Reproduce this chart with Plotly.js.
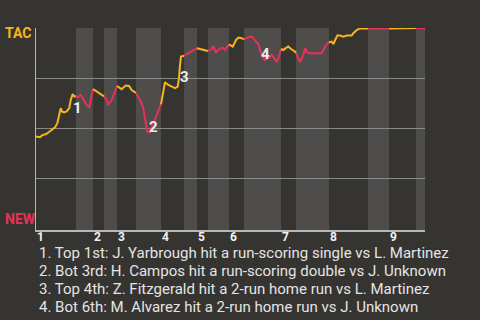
<!DOCTYPE html>
<html>
<head>
<meta charset="utf-8">
<script src="https://cdn.plot.ly/plotly-3.0.1.min.js"></script>
<style>
  html, body { margin: 0; padding: 0; background: #363431; }
  #chart { width: 480px; height: 320px; }
</style>
</head>
<body>
<div id="chart"></div>
<script>
// Game progress (0-100) and TAC win probability after each play
const playX = [0, 1.03, 1.54, 2.57, 3.34, 4.11, 4.88, 5.48, 5.99, 6.35, 6.68, 7.2, 7.89, 8.56, 8.92, 9.43, 9.85, 10.28,
  10.72, 11.49, 12.16, 13.03, 13.7, 14.14, 14.65,
  15.6, 16.45, 17.48,
  17.99, 18.59, 19.46, 20.31, 20.82,
  22.03, 23.06, 23.91, 24.6, 25.71,
  26.74, 27.58, 28.02, 28.61, 29.31, 30.15, 31.03, 32.13,
  32.47, 33.16, 34.01, 34.7, 35.73, 36.43, 36.76, 37.02, 37.28, 38.05,
  39.15, 40.44, 41.39,
  42.16, 43.19, 44.22,
  44.91, 45.58, 46.27, 47.12, 48.0, 48.59, 49.61,
  50.57, 51.41, 52.01, 52.88, 53.47,
  54.58, 55.45, 56.3, 57.15, 58.02, 58.87, 59.72, 60.59, 61.26, 61.88, 62.47, 62.98,
  63.57, 64.19, 64.86, 65.55, 66.4, 66.84,
  67.87, 68.72, 69.15, 69.59, 70.0, 71.72, 73.44, 73.86, 74.29, 74.73, 75.32,
  76.02, 76.43, 76.86, 77.46, 78.15, 79.0, 79.87, 81.16, 81.57, 82.44, 83.29, 85.35,
  90.75,
  96.92, 97.43, 97.69,
  100];
const tacWinProb = [0.458, 0.454, 0.463, 0.47, 0.48, 0.493, 0.503, 0.524, 0.565, 0.599, 0.583, 0.578, 0.583, 0.6, 0.64, 0.67, 0.657, 0.66,
  0.654, 0.665, 0.644, 0.615, 0.604, 0.64, 0.695,
  0.682, 0.67, 0.658,
  0.649, 0.615, 0.64, 0.682, 0.71,
  0.694, 0.712, 0.71, 0.69, 0.675,
  0.64, 0.599, 0.549, 0.482, 0.479, 0.524, 0.565, 0.618,
  0.649, 0.729, 0.715, 0.707, 0.699, 0.707, 0.749, 0.815, 0.857, 0.861,
  0.874, 0.89, 0.899,
  0.895, 0.892, 0.885,
  0.89, 0.907, 0.879, 0.895, 0.902, 0.89, 0.918,
  0.907, 0.94, 0.952, 0.949, 0.943,
  0.954, 0.957, 0.94, 0.92, 0.865, 0.84, 0.849, 0.865, 0.849, 0.829, 0.857, 0.895,
  0.89, 0.899, 0.907, 0.895, 0.885, 0.875,
  0.829, 0.865, 0.899, 0.882, 0.874, 0.874, 0.874, 0.89, 0.907, 0.919, 0.929,
  0.932, 0.92, 0.94, 0.962, 0.962, 0.957, 0.962, 0.962, 0.974, 0.99, 0.998, 0.998,
  0.998,
  0.998, 1.0, 1.0,
  0.998];

// Half-inning starts (top 1st ... bottom 9th) and game end
const halfStarts = [0, 10.28, 14.65, 17.48, 20.82, 25.71, 32.13, 38.05, 41.39, 44.22,
  49.61, 53.47, 62.98, 66.84, 75.32, 85.35, 90.75, 97.69];
const gameEnd = 100;
const inningLabels = ['1', '2', '3', '4', '5', '6', '7', '8', '9'];

// Key plays: label number, label position, description
const eventNums = ['1', '2', '3', '4'];
const eventX = [10.62, 30.15, 38.3, 58.87];
const eventY = [0.6015, 0.5065, 0.755, 0.8685];
const eventText = [
  '1. Top 1st: J. Yarbrough hit a run-scoring single vs L. Martinez',
  '2. Bot 3rd: H. Campos hit a run-scoring double vs J. Unknown',
  '3. Top 4th: Z. Fitzgerald hit a 2-run home run vs L. Martinez',
  '4. Bot 6th: M. Alvarez hit a 2-run home run vs J. Unknown'
];

const awayColor = '#f7b51c';
const homeColor = '#e8315a';
const bgColor = '#363431';
const bandColor = '#4e4d4b';

const traces = [];
const shapes = [];
for (let i = 0; i < halfStarts.length; i++) {
  const s = halfStarts[i];
  const e = i + 1 < halfStarts.length ? halfStarts[i + 1] : gameEnd;
  const xs = [], ys = [];
  for (let k = 0; k < playX.length; k++) {
    if (playX[k] >= s - 1e-9 && playX[k] <= e + 1e-9) { xs.push(playX[k]); ys.push(tacWinProb[k]); }
  }
  const isTop = i % 2 === 0;
  traces.push({
    x: xs, y: ys, type: 'scatter', mode: 'lines',
    line: { color: isTop ? awayColor : homeColor, width: 2 },
    hoverinfo: 'skip', showlegend: false
  });
  if (!isTop) {
    shapes.push({
      type: 'rect', xref: 'x', yref: 'paper', x0: s, x1: e, y0: 0, y1: 1,
      fillcolor: bandColor, line: { width: 0 }, layer: 'below'
    });
  }
}

const annotations = [];
// numbered markers for the key plays
for (let i = 0; i < eventNums.length; i++) {
  annotations.push({
    x: eventX[i], y: eventY[i], xref: 'x', yref: 'y', text: eventNums[i],
    showarrow: false, xanchor: 'center', yanchor: 'middle',
    font: { family: 'Roboto', size: 15, weight: 'bold', color: '#ececec' }
  });
}
// inning numbers under the axis, at the start of each top half
const inningStarts = halfStarts.filter((v, i) => i % 2 === 0);
for (let i = 0; i < inningStarts.length; i++) {
  annotations.push({
    x: inningStarts[i], y: -0.033, xref: 'x', yref: 'paper', text: inningLabels[i],
    showarrow: false, xanchor: 'center', yanchor: 'middle', xshift: 4.5,
    font: { family: 'Roboto', size: 12, weight: 'bold', color: '#f2f2f2' }
  });
}
// play descriptions
const noteY = [-0.115, -0.203, -0.292, -0.38];
for (let i = 0; i < eventText.length; i++) {
  annotations.push({
    x: 0.003, y: noteY[i], xref: 'paper', yref: 'paper', text: eventText[i],
    showarrow: false, xanchor: 'left', yanchor: 'middle',
    font: { family: 'Roboto', size: 15, color: '#e4e4e4' }
  });
}
annotations.push({
  x: -0.086, y: 0.975, xref: 'paper', yref: 'paper', text: 'TAC', showarrow: false,
  xanchor: 'left', yanchor: 'middle',
  font: { family: 'Roboto', size: 14, weight: 'bold', color: awayColor }
});
annotations.push({
  x: -0.086, y: 0.055, xref: 'paper', yref: 'paper', text: 'NEW', showarrow: false,
  xanchor: 'left', yanchor: 'middle',
  font: { family: 'Roboto', size: 14, weight: 'bold', color: homeColor }
});

const layout = {
  width: 480, height: 320,
  margin: { l: 36, r: 55, t: 28, b: 90 },
  paper_bgcolor: bgColor, plot_bgcolor: bgColor,
  showlegend: false,
  xaxis: {
    range: [0, gameEnd], showgrid: false, zeroline: false,
    showline: true, linecolor: '#b8b8b8', linewidth: 1.5,
    showticklabels: false, ticks: ''
  },
  yaxis: {
    range: [-0.01, 1], showgrid: true, gridcolor: '#8a8a8a', gridwidth: 1,
    tickvals: [0.25, 0.5, 0.75, 1], showticklabels: false, ticks: '',
    zeroline: false, showline: true, linecolor: '#b8b8b8', linewidth: 1.5
  },
  shapes: shapes,
  annotations: annotations
};

Plotly.newPlot('chart', traces, layout, { staticPlot: true, displayModeBar: false });
</script>
</body>
</html>
